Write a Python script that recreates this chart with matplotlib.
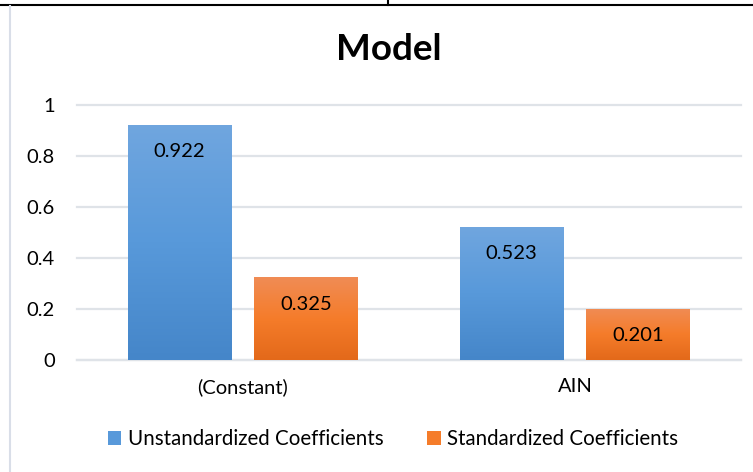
import matplotlib.pyplot as plt
import numpy as np
from matplotlib.colors import LinearSegmentedColormap
from matplotlib.lines import Line2D
from matplotlib.patches import Patch

categories = ["(Constant)", "AIN"]
series_names = ["Unstandardized Coefficients", "Standardized Coefficients"]
unstandardized = [0.922, 0.523]
standardized = [0.325, 0.201]
y_ticks = [0, 0.2, 0.4, 0.6, 0.8, 1]
y_tick_labels = ["0", "0.2", "0.4", "0.6", "0.8", "1"]

blue_colors = ["#4586c9", "#5899da", "#70a6df"]
orange_colors = ["#e3691a", "#f57c2a", "#f08c55"]

plt.rcParams["font.family"] = ["Lato", "DejaVu Sans"]


def gradient_bars(ax, bars, colors):
    cmap = LinearSegmentedColormap.from_list("g", colors)
    grad = np.linspace(0, 1, 256).reshape(-1, 1)
    for bar in bars:
        x, y = bar.get_x(), bar.get_y()
        w, h = bar.get_width(), bar.get_height()
        im = ax.imshow(grad, cmap=cmap, origin="lower", aspect="auto",
                       extent=(x, x + w, y, y + h), zorder=3)
        im.set_clip_path(bar)


fig = plt.figure(figsize=(7.53, 4.72), dpi=100)
ax = fig.add_axes([77 / 753, 1 - 360 / 472, 664 / 753, 255 / 472])

x = np.arange(len(categories))
width = 0.313
offset = 0.191

bars1 = ax.bar(x - offset, unstandardized, width, color=blue_colors[1], zorder=2)
bars2 = ax.bar(x + offset, standardized, width, color=orange_colors[1], zorder=2)
gradient_bars(ax, bars1, blue_colors)
gradient_bars(ax, bars2, orange_colors)

for bars, vals in [(bars1, unstandardized), (bars2, standardized)]:
    for b, v in zip(bars, vals):
        ax.annotate(f"{v:.3f}", (b.get_x() + b.get_width() / 2, v),
                    xytext=(0, -27), textcoords="offset pixels",
                    ha="center", va="center", fontsize=14.5, color="#000000", zorder=4)

ax.set_xlim(-0.5, 1.5)
ax.set_ylim(0, 1)
ax.set_yticks(y_ticks)
ax.set_yticklabels(y_tick_labels)
ax.set_xticks(x)
ax.set_xticklabels(categories)
ax.tick_params(axis="y", length=0, pad=16, labelsize=14.5, labelcolor="#000000")
ax.tick_params(axis="x", length=0, pad=13, labelsize=14.5, labelcolor="#000000")
ax.yaxis.grid(True, color="#dfe3e8", linewidth=1.6, zorder=0)
ax.set_axisbelow(True)
for gl in ax.get_ygridlines():
    gl.set_clip_on(False)
for s in ax.spines.values():
    s.set_visible(False)
ax.spines["bottom"].set_visible(True)
ax.spines["bottom"].set_color("#dfe3e8")
ax.spines["bottom"].set_linewidth(1.6)

fig.text(389 / 753, 1 - 50 / 472, "Model", ha="center", va="center",
         fontsize=26.5, fontweight="bold", color="#000000")

handles = [Patch(facecolor=blue_colors[1], edgecolor="none"),
           Patch(facecolor=orange_colors[1], edgecolor="none")]
fig.legend(handles, series_names, loc="center", bbox_to_anchor=(393 / 753, 1 - 439 / 472),
           ncol=2, frameon=False, fontsize=14.8, handlelength=0.65, handleheight=0.65,
           handletextpad=0.3, columnspacing=2.15)

# sheet borders around the chart
fig.add_artist(Line2D([0, 1], [1 - 5 / 472, 1 - 5 / 472], color="black", linewidth=1.5))
fig.add_artist(Line2D([388 / 753, 388 / 753], [1, 1 - 5 / 472], color="black", linewidth=1.5))
fig.add_artist(Line2D([10 / 753, 10 / 753], [0, 1 - 6 / 472], color="#d9dee8", linewidth=1.5))

fig.savefig("out.png", dpi=100)
